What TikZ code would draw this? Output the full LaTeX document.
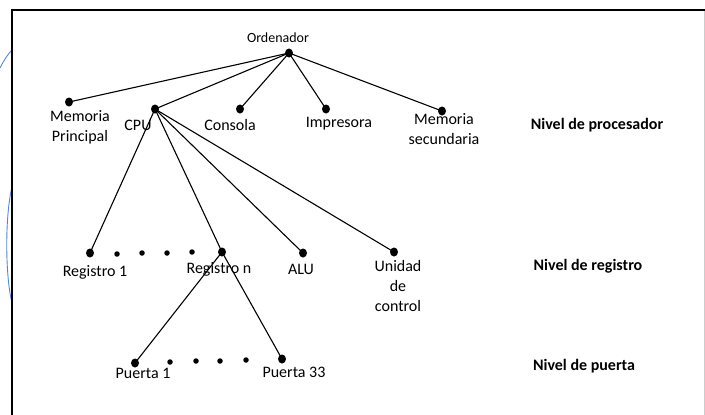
\documentclass[tikz,border=0pt]{standalone}
\usepackage{fontspec}
\setmainfont{Carlito}
\definecolor{arcblue}{RGB}{84,134,214}
\begin{document}
\begin{tikzpicture}[x=1pt,y=-1pt,
  bigdot/.style={ellipse,fill=black,inner sep=0pt,minimum width=8pt,minimum height=9pt},
  smalldot/.style={circle,fill=black,inner sep=0pt,minimum size=5.5pt},
  lbl/.style={inner sep=0pt,font=\fontsize{16}{20}\selectfont,align=center},
  lvl/.style={inner sep=0pt,font=\fontsize{16}{20}\selectfont\bfseries},
  edge/.style={line width=1.1pt},
  frame/.style={line width=1.6pt},
  arcline/.style={draw=arcblue,line width=0.9pt}]
\usetikzlibrary{shapes.geometric}
\useasboundingbox (0,0) rectangle (705,415);
% blue arcs on the left
\draw[arcline] (0,68) .. controls (4,60) and (8,54) .. (12,50);
\draw[arcline] (12,187) .. controls (5,215) and (5,275) .. (12,303);
% frame
\draw[frame] (12,415) -- (12,10) -- (705,10);
\draw[black!20,line width=0.8pt] (704,11) -- (704,415);
% dots
\node[bigdot] (ord) at (289,53) {};
\node[bigdot] (mp) at (69,102) {};
\node[bigdot] (cpu) at (155,109) {};
\node[bigdot] (con) at (240,109) {};
\node[bigdot] (imp) at (326,109) {};
\node[bigdot] (ms) at (442,111) {};
\node[bigdot] (r1) at (90,253) {};
\node[bigdot] (rn) at (222,252) {};
\node[bigdot] (alu) at (303,253) {};
\node[bigdot] (uc) at (394,252) {};
\node[bigdot] (p1) at (135,363) {};
\node[bigdot] (p33) at (282,359) {};
\node[smalldot] (s1) at (117,254) {};
\node[smalldot] (s2) at (142,253) {};
\node[smalldot] (s3) at (167,253) {};
\node[smalldot] (s4) at (192,252) {};
\node[smalldot] (t1) at (170,362) {};
\node[smalldot] (t2) at (196,361) {};
\node[smalldot] (t3) at (220,361) {};
\node[smalldot] (t4) at (246,360) {};
% connectors
\draw[edge] (ord.center) -- (mp.center);
\draw[edge] (ord.center) -- (cpu.center);
\draw[edge] (ord.center) -- (con.center);
\draw[edge] (ord.center) -- (imp.center);
\draw[edge] (ord.center) -- (ms.center);
\draw[edge] (cpu.center) -- (r1.center);
\draw[edge] (cpu.center) -- (rn.center);
\draw[edge] (cpu.center) -- (alu.center);
\draw[edge] (cpu.center) -- (uc.center);
\draw[edge] (rn.center) -- (p1.center);
\draw[edge] (rn.center) -- (p33.center);
% labels
\node[lbl,font=\fontsize{14}{17}\selectfont] (lord) at (278,38) {Ordenador};
\node[lbl] (lmp) at (80,127) {Memoria\\Principal};
\node[lbl] (lcpu) at (138,125) {CPU};
\node[lbl] (lcon) at (230,125) {Consola};
\node[lbl] (limp) at (339,124) {Impresora};
\node[lbl] (lms) at (444,129.5) {Memoria\\secundaria};
\node[lbl] (lr1) at (95,272) {Registro 1};
\node[lbl] (lrn) at (219,269) {Registro n};
\node[lbl] (lalu) at (301,269) {ALU};
\node[lbl] (luc) at (398,286) {Unidad\\de\\control};
\node[lbl] (lp1) at (143,373) {Puerta 1};
\node[lbl] (lp33) at (294,372) {Puerta 33};
\node[lvl] (nproc) at (597,125) {Nivel de procesador};
\node[lvl] (nreg) at (588,266) {Nivel de registro};
\node[lvl] (npue) at (584,366) {Nivel de puerta};
\end{tikzpicture}
\end{document}
